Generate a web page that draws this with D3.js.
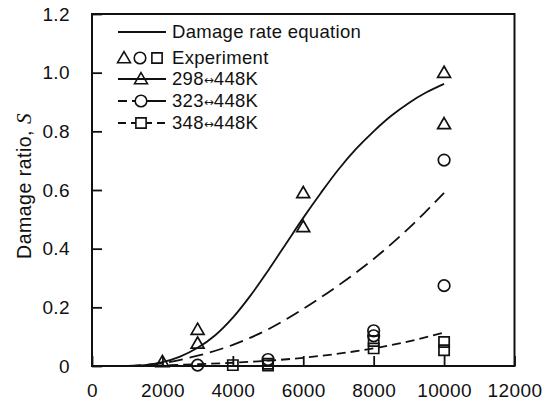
<!DOCTYPE html>
<html><head><meta charset="utf-8">
<script src="https://cdn.jsdelivr.net/npm/d3@7"></script>
<style>
body{margin:0;background:#fff;}
svg{display:block;}
text{font-family:"Liberation Sans",Arial,sans-serif;fill:#111;}
</style></head>
<body>
<svg id="c" width="551" height="405"></svg>
<script>
// ---- data ----
const xTicks = [0, 2000, 4000, 6000, 8000, 10000, 12000];
const yTicks = [0, 0.2, 0.4, 0.6, 0.8, 1.0, 1.2];
const yTickLabels = ["0", "0.2", "0.4", "0.6", "0.8", "1.0", "1.2"];

// model curves (damage rate equation)
const curve298 = [[1000,0],[1500,0.003],[2000,0.013],[2500,0.032],[3000,0.062],[3500,0.105],[4000,0.165],[4500,0.24],[5000,0.325],[5500,0.415],[6000,0.505],[6500,0.59],[7000,0.67],[7500,0.74],[8000,0.8],[8500,0.853],[9000,0.897],[9500,0.933],[10000,0.962]];
const curve323 = [[1000,0],[2000,0.01],[3000,0.035],[4000,0.072],[5000,0.125],[6000,0.195],[7000,0.275],[8000,0.365],[9000,0.47],[10000,0.59]];
const curve348 = [[1000,0],[2000,0.002],[3000,0.006],[4000,0.011],[5000,0.018],[6000,0.028],[7000,0.042],[8000,0.06],[9000,0.084],[10000,0.114]];

// experimental data
const exp298 = [[2000,0.014],[3000,0.124],[3000,0.077],[6000,0.59],[6000,0.474],[10000,1.0],[10000,0.825]];
const exp323 = [[3000,0.003],[5000,0.022],[8000,0.12],[8000,0.103],[10000,0.702],[10000,0.274]];
const exp348 = [[4000,0.003],[5000,0.008],[5000,0.002],[8000,0.085],[8000,0.06],[10000,0.082],[10000,0.054]];

const legendItems = ["Damage rate equation", "Experiment", "298|448K", "323|448K", "348|448K"];

// ---- layout ----
const svg = d3.select("#c");
const L = 92, R = 514.5, T = 14, B = 366;
const x = d3.scaleLinear().domain([0, 12000]).range([L, R]);
const y = d3.scaleLinear().domain([0, 1.2]).range([B, T]);
const ink = "#111";

// axes with inward ticks
const xAxis = d3.axisBottom(x).tickValues(xTicks).tickSize(-10).tickPadding(18).tickFormat(d3.format("d"));
const gx = svg.append("g").attr("transform", `translate(0,${B})`).call(xAxis);
const yAxis = d3.axisLeft(y).tickValues(yTicks).tickSize(-10).tickPadding(22).tickFormat((d,i)=>yTickLabels[i]);
const gy = svg.append("g").attr("transform", `translate(${L},0)`).call(yAxis);
[gx, gy].forEach(g => {
  g.select(".domain").remove();
  g.selectAll(".tick line").attr("stroke", ink).attr("stroke-width", 1.8);
  g.selectAll(".tick text").style("font-size", "19px").style("letter-spacing","0.4px").attr("fill", ink);
});
gx.selectAll(".tick text").attr("dy", "0.71em");
// frame
svg.append("rect").attr("x", L).attr("y", T).attr("width", R - L).attr("height", B - T)
  .attr("fill", "none").attr("stroke", ink).attr("stroke-width", 2);

// y label
svg.append("text").attr("transform", `translate(31,${(T+B)/2 - 4}) rotate(-90)`)
  .attr("text-anchor", "middle").style("font-size", "19.5px").style("letter-spacing","0.5px")
  .html('Damage ratio, <tspan style="font-family:\'Liberation Serif\',serif;font-style:italic;font-size:21px">S</tspan>');

// curves
const line = d3.line().x(d => x(d[0])).y(d => y(d[1])).curve(d3.curveCatmullRom.alpha(0.5));
const curves = [[curve298, null], [curve323, "14 7"], [curve348, "9 5"]];
curves.forEach(([data, dash]) => {
  svg.append("path").datum(data).attr("d", line).attr("fill", "none")
    .attr("stroke", ink).attr("stroke-width", 1.8).attr("stroke-dasharray", dash);
});

// markers
const sym = {
  tri: d3.symbol().type(d3.symbolTriangle).size(72),
  cir: d3.symbol().type(d3.symbolCircle).size(105),
  sq: d3.symbol().type(d3.symbolSquare).size(105)
};
function drawMarkers(data, s, dy) {
  svg.append("g").selectAll("path").data(data).join("path")
    .attr("d", sym[s]())
    .attr("transform", d => `translate(${x(d[0])},${y(d[1]) + (dy||0)})`)
    .attr("fill", "none").attr("stroke", ink).attr("stroke-width", 1.7);
}
drawMarkers(exp298, "tri", 1);
drawMarkers(exp323, "cir");
drawMarkers(exp348, "sq");

// legend
const lg = svg.append("g");
const rowY = [32, 58, 79, 101, 123];
const lx0 = 118, lx1 = 166, tx = 172;
legendItems.forEach((t, i) => {
  const el = lg.append("text").attr("x", tx).attr("y", rowY[i]).attr("dy", "0.35em")
    .style("font-size", "18.5px").style("letter-spacing","0.3px");
  const parts = t.split("|");
  el.append("tspan").text(parts[0]);
  if (parts.length > 1) {
    el.append("tspan").style("font-family", "'DejaVu Sans',sans-serif").style("font-size", "12px")
      .style("letter-spacing", "0px").attr("dy", "-1").text("\u2194");
    el.append("tspan").attr("dy", "1").text(parts[1]);
  }
});
function lgLine(yv, dash) {
  lg.append("line").attr("x1", lx0).attr("x2", lx1).attr("y1", yv).attr("y2", yv)
    .attr("stroke", ink).attr("stroke-width", 1.8).attr("stroke-dasharray", dash);
}
function lgMark(xv, yv, s, dy) {
  lg.append("path").attr("d", sym[s]()).attr("transform", `translate(${xv},${yv + (dy||0)})`)
    .attr("fill", s === "tri" ? "none" : "#fff").attr("stroke", ink).attr("stroke-width", 1.6);
}
lgLine(rowY[0], null);
lgMark(124, rowY[1], "tri", 1); lgMark(140, rowY[1], "cir"); lgMark(157, rowY[1], "sq");
lgLine(rowY[2], null); lgMark(141, rowY[2], "tri", 1);
lgLine(rowY[3], "9 5 40"); lgMark(141, rowY[3], "cir");
lgLine(rowY[4], "8 5"); lgMark(141, rowY[4], "sq");
</script>
</body></html>
